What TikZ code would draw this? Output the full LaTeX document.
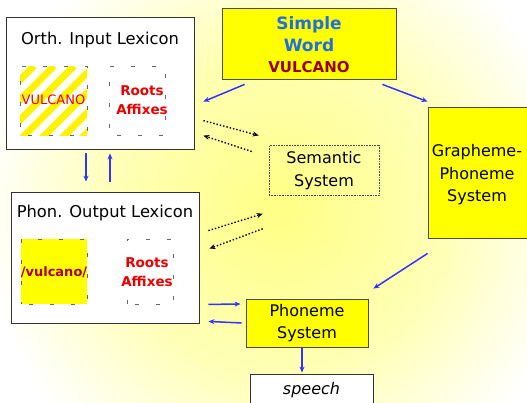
\documentclass[tikz,border=0pt]{standalone}
\usepackage{fontspec}
\setmainfont{DejaVu Sans}
\usetikzlibrary{arrows.meta,calc}
\definecolor{arrowblue}{RGB}{51,51,255}
\definecolor{wordblue}{RGB}{30,110,230}
\definecolor{darkred}{RGB}{150,0,0}
\definecolor{textred}{RGB}{235,0,0}
\definecolor{boxyellow}{RGB}{255,255,0}
\pgfdeclareradialshading{glow}{\pgfpoint{0bp}{0bp}}{color(0bp)=(yellow!48); color(14bp)=(yellow!28); color(25bp)=(white); color(50bp)=(white)}
\tikzset{
  lexbox/.style={draw=black!80, line width=0.8pt, fill=white, inner sep=0pt},
  ybox/.style={draw=black!70, line width=0.8pt, fill=boxyellow, inner sep=0pt, align=center},
  semb/.style={draw=black!70, densely dotted, line width=0.6pt, inner sep=0pt, align=center},
  inner/.style={draw=black!60, dash pattern=on 4pt off 17pt, dash phase=-8pt, line width=0.7pt, inner sep=0pt},
  ttl/.style={font=\fontsize{16.3}{18}\selectfont},
  body/.style={font=\fontsize{16}{22.5}\selectfont, align=center},
  redb/.style={text=textred, font=\bfseries\fontsize{13.5}{19}\selectfont, align=center},
  barrow/.style={arrowblue, line width=1.5pt, -{Stealth[length=6pt,width=5pt]}},
  darrow/.style={black, dotted, line width=1.4pt, -{Stealth[length=6pt,width=5pt]}},
}
\begin{document}
\begin{tikzpicture}[x=1pt,y=-1pt]
\useasboundingbox (0,0) rectangle (527,402);
\clip (0,0) rectangle (527,402);
\fill[white] (0,0) rectangle (527,402);
\shade[shading=glow] (280,210) circle (300);

% Orth. Input Lexicon
\node[lexbox, minimum width=188pt, minimum height=132pt] (orth) at (100,83) {};
\node[ttl] (orthttl) at (100,40) {Orth. Input Lexicon};
\begin{scope}
  \clip (20,66) rectangle (87,135);
  \foreach \i in {-4,...,5} \draw[yellow, line width=7pt] (20+\i*20,140) -- (20+\i*20+74,66);
\end{scope}
\node[inner, minimum width=67pt, minimum height=69pt] (orthw) at (53.5,100.5) {};
\node[text=textred, font=\fontsize{13}{14}\selectfont] (orthv) at (53.5,100) {VULCANO};
\node[inner, minimum width=56pt, minimum height=69pt] (orthr) at (137,100.5) {};
\node[redb] (orthra) at (142,100) {Roots\\Affixes};

% Phon. Output Lexicon
\node[lexbox, minimum width=188pt, minimum height=131pt] (phon) at (105,257.5) {};
\node[ttl] (phonttl) at (105,213) {Phon. Output Lexicon};
\node[inner, fill=boxyellow, minimum width=66pt, minimum height=65pt] (phonw) at (54,271.5) {};
\node[text=darkred!80!red, font=\bfseries\fontsize{13}{14}\selectfont] (phonv) at (54,272) {/vulcano/};
\node[inner, minimum width=46pt, minimum height=65pt] (phonr) at (150,271.5) {};
\node[redb] (phonra) at (147,272) {Roots\\Affixes};

% Simple Word
\node[ybox, minimum width=174pt, minimum height=71pt] (sw) at (309,43.5) {};
\node[font=\bfseries\fontsize{17}{22}\selectfont, text=wordblue, align=center] (swt) at (309,34) {Simple\\Word};
\node[font=\bfseries\fontsize{15}{15}\selectfont, text=darkred] (swv) at (309,67) {VULCANO};

% Grapheme-Phoneme System
\node[ybox, minimum width=112pt, minimum height=131pt] (gps) at (484,172.5) {};
\node[body] (gpst) at (477,175) {Grapheme-\\Phoneme\\System};

% Semantic System
\node[semb, minimum width=110pt, minimum height=50pt, body] (sem) at (324,170.5) {Semantic\\System};

% Phoneme System
\node[ybox, minimum width=122pt, minimum height=48pt, body] (phoneme) at (307,323) {Phoneme\\System};

% speech
\node[lexbox, minimum width=123pt, minimum height=32pt, font=\itshape\fontsize{16}{18}\selectfont] (speech) at (311.5,390) {speech};

% blue arrows
\draw[barrow] ([xshift=23pt,yshift=-5pt]sw.south west) -- ([xshift=9pt,yshift=-85pt]orth.north east);
\draw[barrow] ([xshift=-14pt,yshift=-5pt]sw.south east) -- ([yshift=5pt]gps.north west);
\draw[barrow] ([xshift=-14pt,yshift=-4pt]orth.south) -- ([xshift=-19pt,yshift=10pt]phon.north);
\draw[barrow] ([xshift=5pt,yshift=10pt]phon.north) -- ([xshift=10pt,yshift=-4pt]orth.south);
\draw[barrow] ([yshift=-15pt]gps.south west) -- ([xshift=5pt,yshift=10pt]phoneme.north east);
\draw[barrow] ([xshift=9pt,yshift=19pt]phon.south east) -- ([xshift=-5pt,yshift=19pt]phoneme.west);
\draw[barrow] ([xshift=-4pt]phoneme.west) -- ([xshift=9pt,yshift=2pt]phon.south east);
\draw[barrow] ([xshift=-5pt]phoneme.south) -- ([xshift=-9.5pt,yshift=1pt]speech.north);

% dotted arrows
\draw[darrow] ([xshift=9pt,yshift=-104pt]orth.north east) -- ([xshift=-10pt,yshift=35pt]sem.west);
\draw[darrow] ([xshift=-17pt,yshift=19pt]sem.west) -- ([xshift=9pt,yshift=-119pt]orth.north east);
\draw[darrow] ([xshift=9pt,yshift=-39pt]phon.north east) -- ([xshift=-6pt,yshift=-18pt]sem.south west);
\draw[darrow] ([xshift=-6pt,yshift=-33pt]sem.south west) -- ([xshift=10pt,yshift=-57pt]phon.north east);
\end{tikzpicture}
\end{document}
